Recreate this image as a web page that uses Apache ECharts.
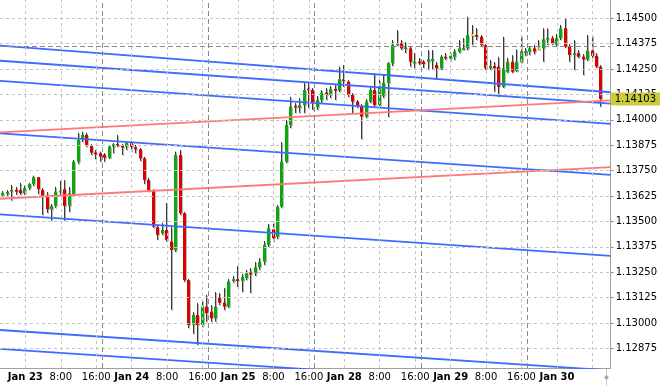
<!DOCTYPE html>
<html><head><meta charset="utf-8">
<script src="https://cdn.jsdelivr.net/npm/echarts@6/dist/echarts.min.js"></script>
<style>html,body{margin:0;padding:0;background:#fff}#c{width:660px;height:387px}</style>
</head><body><div id="c"></div>
<script>
// Hourly bars, index 0 = first visible bar
const opens = [1.13629,1.13636,1.13647,1.13653,1.13655,1.13639,1.13665,1.13685,1.13718,1.13655,
1.13626,1.13560,1.13577,1.13645,1.13659,1.13577,1.13634,1.13794,1.13901,1.13926,
1.13872,1.13837,1.13836,1.13829,1.13814,1.13868,1.13878,1.13872,1.13868,1.13888,
1.13865,1.13855,1.13811,1.13704,1.13652,1.13472,1.13442,1.13458,1.13401,1.13360,
1.13827,1.13541,1.13212,1.12991,1.13040,1.12991,1.13081,1.13056,1.13024,1.13124,
1.13101,1.13081,1.13208,1.13215,1.13208,1.13222,1.13247,1.13245,1.13275,1.13302,
1.13385,1.13462,1.13425,1.13573,1.13794,1.13975,1.14069,1.14059,1.14073,1.14152,
1.14147,1.14062,1.14098,1.14134,1.14123,1.14151,1.14144,1.14200,1.14188,1.14123,
1.14090,1.14069,1.14016,1.14090,1.14147,1.14073,1.14118,1.14182,1.14279,1.14369,
1.14377,1.14352,1.14352,1.14279,1.14286,1.14286,1.14286,1.14290,1.14270,1.14254,
1.14311,1.14303,1.14311,1.14336,1.14347,1.14352,1.14418,1.14418,1.14409,1.14369,
1.14254,1.14265,1.14262,1.14163,1.14237,1.14286,1.14241,1.14286,1.14331,1.14336,
1.14352,1.14352,1.14352,1.14397,1.14402,1.14369,1.14402,1.14451,1.14360,1.14319,
1.14328,1.14311,1.14298,1.14341,1.14315,1.14262];
const closes = [1.13639,1.13645,1.13655,1.13650,1.13639,1.13664,1.13685,1.13718,1.13659,1.13626,
1.13560,1.13577,1.13647,1.13650,1.13577,1.13639,1.13794,1.13901,1.13926,1.13877,
1.13839,1.13833,1.13819,1.13814,1.13868,1.13880,1.13875,1.13865,1.13888,1.13868,
1.13855,1.13811,1.13704,1.13652,1.13475,1.13434,1.13458,1.13409,1.13360,1.13827,
1.13541,1.13212,1.12991,1.13040,1.12991,1.13081,1.13049,1.13024,1.13081,1.13101,
1.13081,1.13204,1.13215,1.13208,1.13227,1.13245,1.13240,1.13275,1.13302,1.13385,
1.13467,1.13418,1.13573,1.13794,1.13975,1.14065,1.14061,1.14073,1.14147,1.14147,
1.14082,1.14098,1.14134,1.14123,1.14151,1.14144,1.14200,1.14192,1.14123,1.14090,
1.14069,1.14016,1.14090,1.14147,1.14073,1.14157,1.14182,1.14279,1.14369,1.14377,
1.14352,1.14354,1.14286,1.14286,1.14279,1.14275,1.14298,1.14300,1.14254,1.14311,
1.14303,1.14315,1.14336,1.14352,1.14352,1.14418,1.14418,1.14409,1.14369,1.14254,
1.14265,1.14254,1.14163,1.14254,1.14286,1.14237,1.14286,1.14336,1.14336,1.14352,
1.14336,1.14352,1.14397,1.14402,1.14377,1.14402,1.14451,1.14360,1.14319,1.14328,
1.14311,1.14298,1.14341,1.14315,1.14262,1.14103];
const highs = [1.13650,1.13655,1.13680,1.13670,1.13690,1.13676,1.13690,1.13726,1.13719,1.13665,
1.13645,1.13586,1.13670,1.13700,1.13704,1.13670,1.13803,1.13937,1.13942,1.13937,
1.13882,1.13852,1.13844,1.13837,1.13877,1.13886,1.13926,1.13882,1.13896,1.13896,
1.13877,1.13862,1.13818,1.13714,1.13660,1.13483,1.13493,1.13591,1.13473,1.13844,
1.13852,1.13547,1.13217,1.13055,1.13099,1.13114,1.13139,1.13089,1.13153,1.13148,
1.13173,1.13217,1.13232,1.13281,1.13242,1.13262,1.13271,1.13301,1.13321,1.13404,
1.13488,1.13498,1.13581,1.13891,1.14000,1.14114,1.14083,1.14108,1.14182,1.14182,
1.14157,1.14118,1.14147,1.14157,1.14167,1.14177,1.14262,1.14270,1.14196,1.14132,
1.14098,1.14078,1.14103,1.14167,1.14229,1.14196,1.14221,1.14285,1.14393,1.14442,
1.14393,1.14383,1.14364,1.14329,1.14305,1.14295,1.14344,1.14344,1.14286,1.14319,
1.14329,1.14334,1.14349,1.14393,1.14403,1.14508,1.14467,1.14452,1.14418,1.14373,
1.14295,1.14285,1.14310,1.14409,1.14305,1.14319,1.14347,1.14418,1.14354,1.14364,
1.14369,1.14393,1.14451,1.14451,1.14413,1.14423,1.14467,1.14500,1.14373,1.14393,
1.14344,1.14324,1.14418,1.14418,1.14329,1.14270];
const lows = [1.13621,1.13626,1.13603,1.13631,1.13631,1.13631,1.13655,1.13675,1.13636,1.13532,
1.13542,1.13504,1.13567,1.13631,1.13504,1.13547,1.13626,1.13783,1.13891,1.13867,
1.13827,1.13806,1.13794,1.13794,1.13808,1.13836,1.13867,1.13827,1.13852,1.13844,
1.13836,1.13798,1.13685,1.13645,1.13468,1.13409,1.13434,1.13401,1.13065,1.13350,
1.13532,1.13203,1.12976,1.12947,1.12893,1.12981,1.13007,1.13006,1.13007,1.13089,
1.13065,1.13075,1.13198,1.13178,1.13153,1.13212,1.13148,1.13232,1.13262,1.13286,
1.13375,1.13399,1.13414,1.13567,1.13788,1.13960,1.14034,1.14034,1.14034,1.14059,
1.14049,1.14049,1.14083,1.14098,1.14108,1.14098,1.14137,1.14162,1.14113,1.14034,
1.14059,1.13905,1.14009,1.14083,1.14064,1.14069,1.14108,1.14014,1.14265,1.14364,
1.14344,1.14329,1.14262,1.14255,1.14270,1.14255,1.14246,1.14246,1.14205,1.14246,
1.14295,1.14290,1.14295,1.14329,1.14344,1.14344,1.14369,1.14393,1.14359,1.14246,
1.14246,1.14139,1.14114,1.14157,1.14231,1.14231,1.14236,1.14280,1.14315,1.14319,
1.14324,1.14344,1.14286,1.14369,1.14369,1.14359,1.14393,1.14354,1.14286,1.14246,
1.14305,1.14221,1.14290,1.14305,1.14255,1.14065];

// time axis labels (bar index of each labelled hour)
const tickLabels = ['Jan 23','8:00','16:00','Jan 24','8:00','16:00','Jan 25','8:00','16:00',
                    'Jan 28','8:00','16:00','Jan 29','8:00','16:00','Jan 30'];
const tickBars = [5,13,21,29,37,45,53,61,69,77,85,93,101,109,117,125];
const gridBars = [5,13,21,29,37,45,53,61,69,77,85,93,101,109,117,125,133];
const separatorBars = [22.5,46.5,70.5,94.5,118.5];
const priceTicks = [1.12875,1.13000,1.13125,1.13250,1.13375,1.13500,1.13625,1.13750,
                    1.13875,1.14000,1.14125,1.14250,1.14375,1.14500];
const lastPrice = 1.14103;
const levelPrice = 1.14360;
// trend lines: [barStart, priceStart, barEnd, priceEnd]
const blueLines = [
  [-0.52,1.14365,137.32,1.14136],
  [-0.52,1.14291,137.32,1.14080],
  [-0.52,1.14192,137.32,1.13980],
  [-0.52,1.13934,137.32,1.13729],
  [-0.52,1.13535,137.32,1.13331],
  [-0.52,1.12966,137.32,1.12767],
  [-0.52,1.12873,137.32,1.12674]
];
const redLines = [
  [-0.52,1.13939,137.32,1.14096],
  [-0.52,1.13612,137.32,1.13768]
];

const FONT = 'DejaVu Sans';
const GRID_SHIFT = 0.2;
const UP = '#0aa80a', DOWN = '#dd0000', DOJI = '#e4e400';

const candleData = opens.map((o, i) => [i, o, closes[i], lows[i], highs[i]]);

function renderCandle(params, api) {
  const i = api.value(0), o = api.value(1), c = api.value(2), l = api.value(3), h = api.value(4);
  const pO = api.coord([i, o]), pC = api.coord([i, c]);
  const pH = api.coord([i, h]), pL = api.coord([i, l]);
  const x = Math.round(pO[0]);
  const xw = x + 0.5;
  let top = Math.min(pO[1], pC[1]), bot = Math.max(pO[1], pC[1]);
  const doji = o === c;
  if (bot - top < 1.5) { const m = (top + bot) / 2; top = m - 0.9; bot = m + 0.9; }
  const col = doji ? DOJI : (c > o ? UP : DOWN);
  return {
    type: 'group',
    children: [
      { type: 'line', shape: { x1: xw + 1, y1: pH[1] + 1, x2: xw + 1, y2: pL[1] + 1 },
        style: { stroke: '#b4b4b4', lineWidth: 1 } },
      { type: 'rect', shape: { x: x, y: top + 1, width: 3, height: bot - top },
        style: { fill: '#bdbdbd' } },
      { type: 'line', shape: { x1: xw, y1: pH[1], x2: xw, y2: pL[1] },
        style: { stroke: '#3a3a3a', lineWidth: 1 } },
      { type: 'rect', shape: { x: x - 1, y: top, width: 3, height: bot - top },
        style: { fill: col } }
    ]
  };
}

function fmtX(v) {
  let best = 0, d = 1e9;
  tickBars.forEach((b, k) => { const dd = Math.abs(b + GRID_SHIFT - v); if (dd < d) { d = dd; best = k; } });
  const t = tickLabels[best];
  return t.indexOf('Jan') === 0 ? '{b|' + t + '}' : t;
}

const gridStyle = { color: '#c4c4c4', width: 1, type: [3, 3] };
const sepStyle = { color: '#8a8a8a', width: 1, type: [5, 3] };

const series = [
  {
    type: 'line', data: [], z: 1, silent: true,
    markLine: {
      silent: true, symbol: ['none', 'none'], animation: false, precision: 6,
      label: { show: false },
      data: [
        ...priceTicks.map(p => ({ yAxis: p, lineStyle: gridStyle })),
        ...gridBars.map(b => ({ xAxis: b + GRID_SHIFT, lineStyle: gridStyle })),
        ...separatorBars.map(b => ({ xAxis: b, lineStyle: sepStyle })),
        { yAxis: levelPrice, lineStyle: sepStyle }
      ]
    }
  },
  {
    type: 'custom', renderItem: renderCandle, data: candleData, z: 2, clip: true,
    encode: { x: 0, y: [1, 2, 3, 4] }, silent: true
  }
];
blueLines.forEach(L => series.push({
  type: 'line', data: [[L[0], L[1]], [L[2], L[3]]], showSymbol: false, symbol: 'none',
  lineStyle: { color: '#3d6cff', width: 1.8 }, z: 3, silent: true, clip: true
}));
redLines.forEach(L => series.push({
  type: 'line', data: [[L[0], L[1]], [L[2], L[3]]], showSymbol: false, symbol: 'none',
  lineStyle: { color: '#ff7878', width: 1.8 }, z: 3, silent: true, clip: true
}));
series.push({
  type: 'line', data: [], z: 5, silent: true,
  markLine: {
    silent: true, symbol: ['none', 'none'], animation: false, precision: 6,
    lineStyle: { color: 'rgba(0,0,0,0)', width: 1 },
    label: {
      show: true, position: 'end', distance: 0, formatter: lastPrice.toFixed(5),
      backgroundColor: '#cccc3c', color: '#000', fontFamily: FONT, fontSize: 10,
      padding: [2, 4, 1, 4]
    },
    data: [{ yAxis: lastPrice }]
  }
});

const chart = echarts.init(document.getElementById('c'), null, { renderer: 'canvas' });
chart.setOption({
  animation: false,
  backgroundColor: '#ffffff',
  grid: { left: 0, right: 48, top: 0, bottom: 19, containLabel: false },
  xAxis: {
    type: 'value', min: -0.52, max: 137.32,
    axisLine: { show: true, onZero: false, lineStyle: { color: '#a0a0a0' } },
    axisTick: { show: false }, splitLine: { show: false },
    axisLabel: {
      customValues: tickBars.map(b => b + GRID_SHIFT), formatter: fmtX, margin: 4,
      color: '#000', fontSize: 10, fontFamily: FONT,
      rich: { b: { fontWeight: 'bold', fontSize: 10, fontFamily: FONT, color: '#000' } }
    }
  },
  yAxis: {
    type: 'value', position: 'right', min: 1.12779, max: 1.14590, scale: true,
    axisLine: { show: true, onZero: false, lineStyle: { color: '#a0a0a0' } },
    axisTick: { show: true, length: 3, customValues: priceTicks, lineStyle: { color: '#909090' } },
    splitLine: { show: false },
    axisLabel: {
      customValues: priceTicks, formatter: v => v.toFixed(5), margin: 5,
      color: '#000', fontSize: 10, fontFamily: FONT
    }
  },
  graphic: [
    { type: 'line', shape: { x1: 606.5, y1: 369, x2: 606.5, y2: 386 }, style: { stroke: '#c8c8c8', lineWidth: 1 } },
    { type: 'polygon', shape: { points: [[606.5, 375], [609, 377.5], [606.5, 380], [604, 377.5]] }, style: { fill: '#a8a8a8' } }
  ],
  series: series
});
</script>
</body></html>
